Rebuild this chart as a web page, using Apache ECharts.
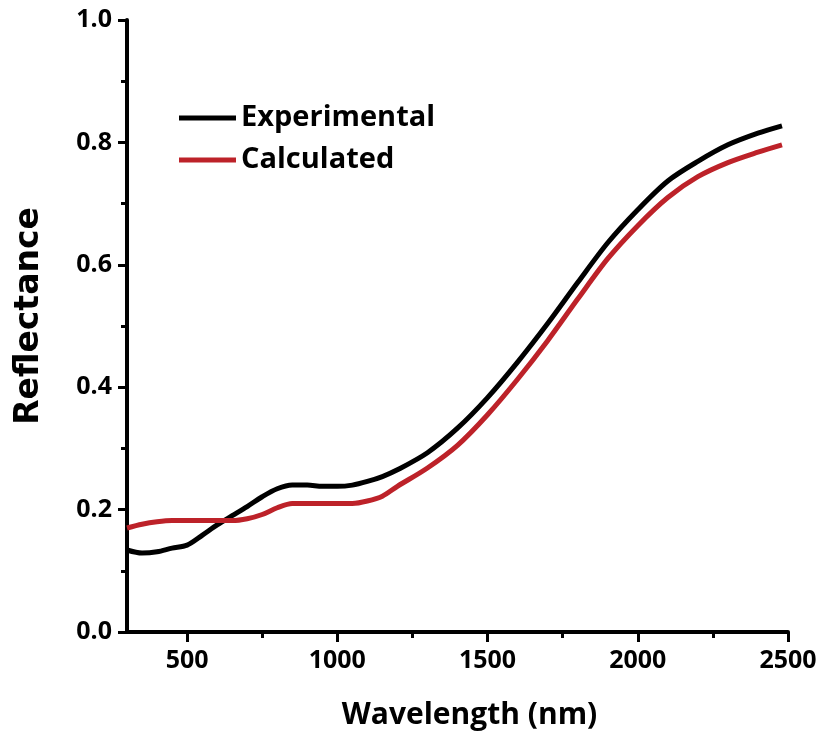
<!DOCTYPE html>
<html>
<head>
<meta charset="utf-8">
<script src="https://cdn.jsdelivr.net/npm/echarts@6/dist/echarts.min.js"></script>
<style>
  html, body { margin: 0; padding: 0; background: #fff; }
  #myChart { width: 823px; height: 741px; }
</style>
</head>
<body>
<div id="myChart"></div>
<script>
// wavelength (nm)
var wavelength = [300, 350, 400, 450, 500, 550, 600, 650, 700, 750, 800, 850, 900, 950,
  1000, 1050, 1100, 1150, 1200, 1300, 1400, 1500, 1600, 1700, 1800, 1900, 2000,
  2100, 2200, 2300, 2400, 2480];
// reflectance readings
var experimental = [0.134, 0.129, 0.131, 0.137, 0.142, 0.158, 0.175, 0.190, 0.205, 0.221, 0.234, 0.240, 0.240, 0.238,
  0.238, 0.240, 0.246, 0.254, 0.265, 0.293, 0.333, 0.383, 0.441, 0.504, 0.571, 0.636, 0.690,
  0.737, 0.769, 0.796, 0.815, 0.827];
var calculated = [0.170, 0.176, 0.180, 0.182, 0.182, 0.182, 0.182, 0.182, 0.185, 0.192, 0.203, 0.210, 0.210, 0.210,
  0.210, 0.210, 0.214, 0.222, 0.238, 0.268, 0.305, 0.355, 0.413, 0.476, 0.544, 0.610, 0.664,
  0.710, 0.744, 0.767, 0.784, 0.796];
var xTicks = [500, 1000, 1500, 2000, 2500];
var xMinorTicks = [750, 1250, 1750, 2250];
var yTicks = [0, 0.2, 0.4, 0.6, 0.8, 1.0];

function pairs(ys) {
  var out = [];
  for (var i = 0; i < wavelength.length; i++) {
    out.push([wavelength[i], ys[i]]);
  }
  return out;
}

var FONT = "Open Sans";
var myChart = echarts.init(document.getElementById("myChart"));
myChart.setOption({
  animation: false,
  grid: {
    left: 127,
    top: 20,
    width: 661,
    height: 612
  },
  legend: {
    orient: "vertical",
    left: 174,
    top: 98,
    itemWidth: 57,
    itemHeight: 5,
    itemGap: 12,
    icon: "rect",
    textStyle: {
      fontFamily: FONT,
      fontWeight: "bold",
      fontSize: 29,
      color: "#000",
      lineHeight: 30
    },
    data: ["Experimental", "Calculated"]
  },
  xAxis: [
    {
      type: "value",
      min: 300,
      max: 2500,
      name: "Wavelength (nm)",
      nameLocation: "middle",
      nameGap: 68,
      nameTextStyle: {
        fontFamily: FONT,
        fontWeight: "bold",
        fontSize: 30,
        color: "#000",
        padding: [0, 0, 0, 24]
      },
      axisLine: { lineStyle: { color: "#000", width: 4 } },
      axisTick: {
        show: true,
        length: 10,
        lineStyle: { color: "#000", width: 3 },
        customValues: xTicks
      },
      axisLabel: {
        fontFamily: FONT,
        fontWeight: "bold",
        fontSize: 25,
        color: "#000",
        margin: 16,
        customValues: xTicks,
        formatter: function (v) { return String(v); }
      },
      splitLine: { show: false }
    },
    {
      // minor ticks only
      type: "value",
      position: "bottom",
      min: 300,
      max: 2500,
      axisLine: { show: false },
      axisTick: {
        show: true,
        length: 6,
        lineStyle: { color: "#000", width: 3 },
        customValues: xMinorTicks
      },
      axisLabel: { show: false },
      splitLine: { show: false }
    }
  ],
  yAxis: {
    type: "value",
    min: 0,
    max: 1,
    interval: 0.2,
    name: "Reflectance",
    nameLocation: "middle",
    nameGap: 81,
    nameTextStyle: {
      fontFamily: "DejaVu Sans",
      fontWeight: "bold",
      fontSize: 33,
      color: "#000",
      padding: [0, 0, 0, 20]
    },
    axisLine: { show: true, lineStyle: { color: "#000", width: 4 } },
    axisTick: { show: true, length: 9, lineStyle: { color: "#000", width: 3 } },
    minorTick: { show: true, splitNumber: 2, length: 6, lineStyle: { color: "#000", width: 3 } },
    axisLabel: {
      fontFamily: FONT,
      fontWeight: "bold",
      fontSize: 25,
      color: "#000",
      margin: 15,
      formatter: function (v) { return v.toFixed(1); }
    },
    splitLine: { show: false }
  },
  series: [
    {
      name: "Experimental",
      type: "line",
      smooth: 0.3,
      showSymbol: false,
      color: "#000000",
      lineStyle: { width: 5, color: "#000000" },
      data: pairs(experimental)
    },
    {
      name: "Calculated",
      type: "line",
      smooth: 0.3,
      showSymbol: false,
      color: "#bd2229",
      lineStyle: { width: 5, color: "#bd2229" },
      data: pairs(calculated)
    }
  ]
});
</script>
</body>
</html>
